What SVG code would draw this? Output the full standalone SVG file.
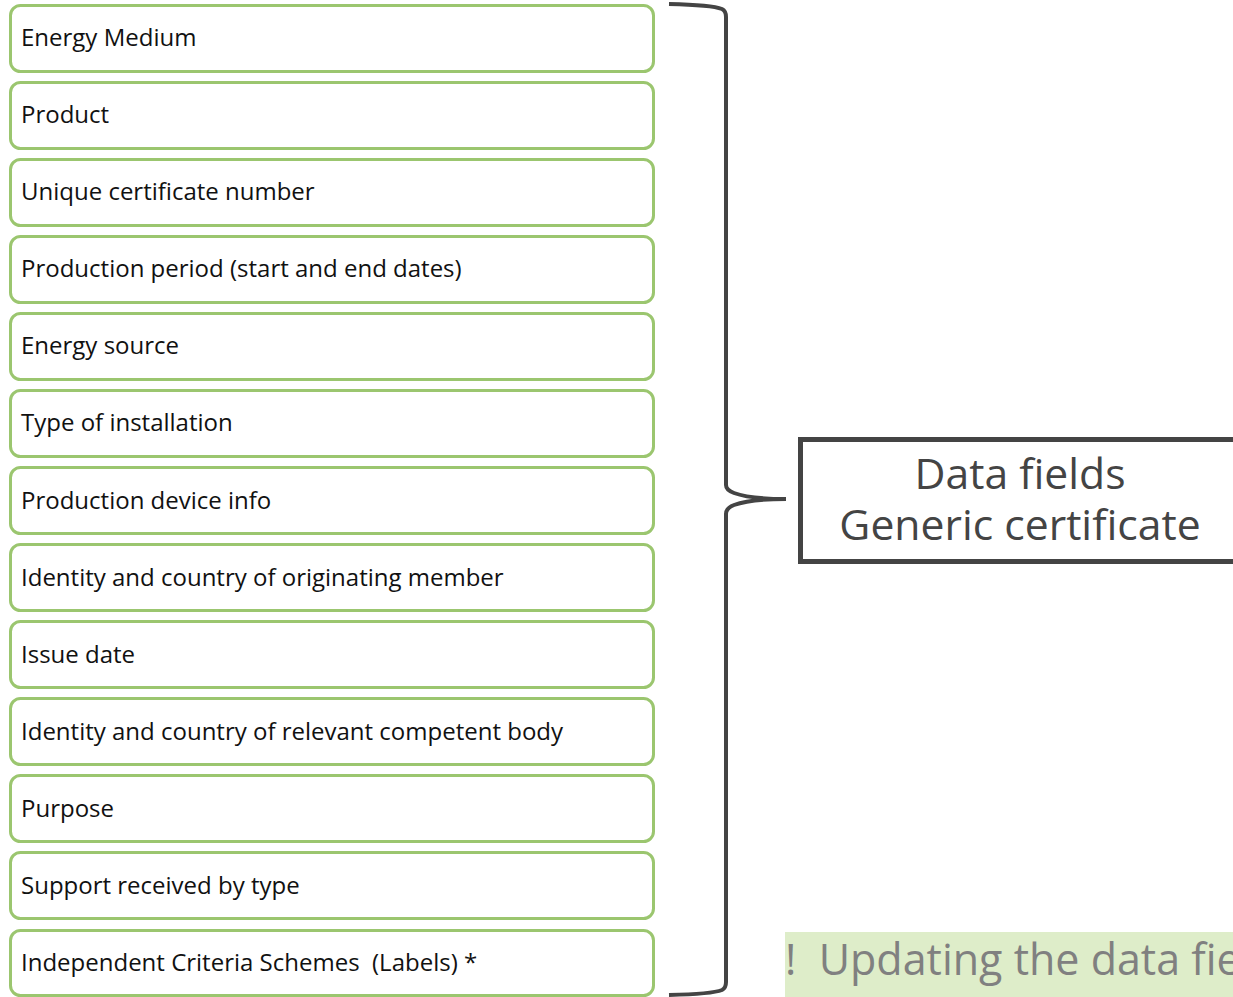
<svg xmlns="http://www.w3.org/2000/svg" width="1233" height="997" viewBox="0 0 1233 997">
<style>
.box{fill:#fff;stroke:#9bc66f;stroke-width:3}
.lbl{font-family:"Open Sans",sans-serif;font-size:24px;fill:#111}
.big{font-family:"Open Sans",sans-serif;font-size:42.7px;fill:#444;text-anchor:middle}
.brace{fill:none;stroke:#444;stroke-width:4}
</style>
<rect width="1233" height="997" fill="#fff"/>
<g id="n1"><rect class="box" x="10.5" y="5.5" width="643" height="66" rx="10"/><text class="lbl" x="21" y="46">Energy Medium</text></g>
<g id="n2"><rect class="box" x="10.5" y="82.5" width="643" height="66" rx="10"/><text class="lbl" x="21" y="123">Product</text></g>
<g id="n3"><rect class="box" x="10.5" y="159.5" width="643" height="66" rx="10"/><text class="lbl" x="21" y="200">Unique certificate number</text></g>
<g id="n4"><rect class="box" x="10.5" y="236.5" width="643" height="66" rx="10"/><text class="lbl" x="21" y="277">Production period (start and end dates)</text></g>
<g id="n5"><rect class="box" x="10.5" y="313.5" width="643" height="66" rx="10"/><text class="lbl" x="21" y="354">Energy source</text></g>
<g id="n6"><rect class="box" x="10.5" y="390.5" width="643" height="66" rx="10"/><text class="lbl" x="21" y="431">Type of installation</text></g>
<g id="n7"><rect class="box" x="10.5" y="467.5" width="643" height="66" rx="10"/><text class="lbl" x="21" y="509">Production device info</text></g>
<g id="n8"><rect class="box" x="10.5" y="544.5" width="643" height="66" rx="10"/><text class="lbl" x="21" y="586">Identity and country of originating member</text></g>
<g id="n9"><rect class="box" x="10.5" y="621.5" width="643" height="66" rx="10"/><text class="lbl" x="21" y="663">Issue date</text></g>
<g id="n10"><rect class="box" x="10.5" y="698.5" width="643" height="66" rx="10"/><text class="lbl" x="21" y="740">Identity and country of relevant competent body</text></g>
<g id="n11"><rect class="box" x="10.5" y="775.5" width="643" height="66" rx="10"/><text class="lbl" x="21" y="817">Purpose</text></g>
<g id="n12"><rect class="box" x="10.5" y="852.5" width="643" height="66" rx="10"/><text class="lbl" x="21" y="894">Support received by type</text></g>
<g id="n13"><rect class="box" x="10.5" y="930.5" width="643" height="65" rx="10"/><text class="lbl" x="21" y="971" xml:space="preserve">Independent Criteria Schemes  (Labels) *</text></g>
<g id="connectors">
<path class="brace" d="M669,4 Q712,5 722,9 Q726,11 726,17 L726,485 Q726,490 734,493 Q750,499 786,499 Q750,499 734,505 Q726,508 726,514 L726,982 Q726,988 722,990 Q712,994 669,995"/>
</g>
<g id="title"><rect x="800.5" y="439.5" width="440" height="122" fill="#fff" stroke="#444" stroke-width="5"/><text class="big" x="1020" y="489">Data fields</text><text class="big" x="1020" y="540">Generic certificate</text></g>
<g id="note"><rect x="785" y="932" width="460" height="65" fill="#deedc9"/><text x="785" y="975" font-family="'Open Sans',sans-serif" font-size="43" fill="#808080" xml:space="preserve">!  Updating the data fields</text></g>
</svg>
